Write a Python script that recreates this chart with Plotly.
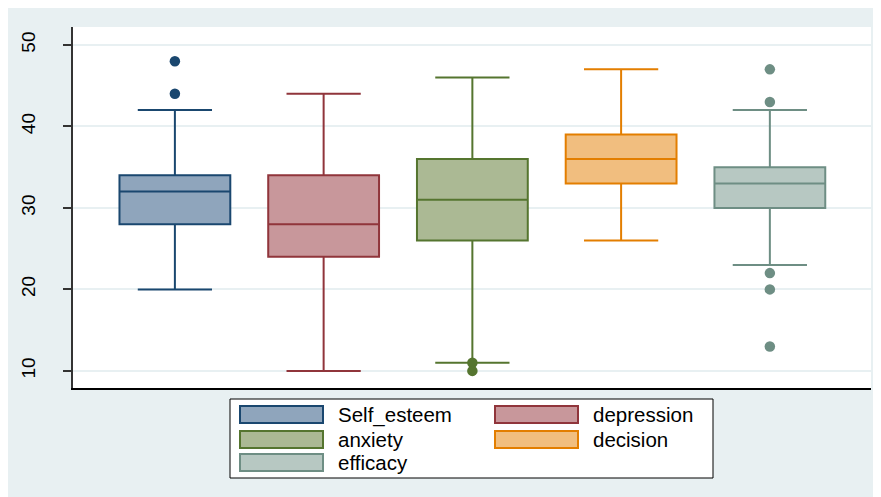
import plotly.graph_objects as go

names = ["Self_esteem", "depression", "anxiety", "decision", "efficacy"]
q1 = [28, 24, 26, 33, 30]
median = [32, 28, 31, 36, 33]
q3 = [34, 34, 36, 39, 35]
lower = [20, 10, 11, 26, 23]
upper = [42, 44, 46, 47, 42]
outliers = [[44, 48], [], [11, 10], [], [47, 43, 22, 20, 13]]
line_colors = ["#1a476f", "#90353b", "#55752f", "#e37e00", "#6e8e84"]
fill_colors = ["#8fa5bc", "#c8979b", "#abb994", "#f1be7f", "#b7c8c2"]
y_ticks = [10, 20, 30, 40, 50]

fig = go.Figure()
for i, n in enumerate(names):
    fig.add_trace(go.Box(
        x=[i], q1=[q1[i]], median=[median[i]], q3=[q3[i]],
        lowerfence=[lower[i]], upperfence=[upper[i]],
        name=n, width=0.745, whiskerwidth=0.67,
        fillcolor=fill_colors[i], line=dict(color=line_colors[i], width=2),
        boxpoints=False, showlegend=False, hoverinfo="skip"))
    if outliers[i]:
        fig.add_trace(go.Scatter(
            x=[i] * len(outliers[i]), y=outliers[i], mode="markers",
            marker=dict(color=line_colors[i], size=10.5, line=dict(width=0)),
            showlegend=False, hoverinfo="skip"))

# page offset (body margin) and plot area pixel geometry in page coords
OX, OY = 8, 8
FW, FH = 881 - OX, 497 - OY
L, R, T, B = 73 - OX, 871 - OX, 27 - OY, 388 - OY
W, H = R - L, B - T
def px(x): return (x - OX - L) / W
def py(y): return (B - (y - OY)) / H

shapes = []
shapes.append(dict(type="rect", xref="paper", yref="paper", layer="below",
                   x0=0, x1=1, y0=0, y1=1,
                   fillcolor="white", line=dict(width=0)))
# legend frame
shapes.append(dict(type="rect", xref="paper", yref="paper",
                   x0=px(230), x1=px(713), y0=py(478), y1=py(399),
                   fillcolor="white", line=dict(color="black", width=1)))
annotations = []
sw_x = [240, 495]
tx_x = [336, 591]
row_y = [406, 431, 454]
for i, n in enumerate(names):
    c, r = i % 2, i // 2
    shapes.append(dict(type="rect", xref="paper", yref="paper",
                       x0=px(sw_x[c]), x1=px(sw_x[c] + 83),
                       y0=py(row_y[r] + 17), y1=py(row_y[r]),
                       fillcolor=fill_colors[i],
                       line=dict(color=line_colors[i], width=2)))
    annotations.append(dict(xref="paper", yref="paper", x=px(tx_x[c]),
                            y=py(row_y[r] + 8.5), text=n, showarrow=False,
                            xanchor="left", yanchor="middle",
                            font=dict(size=20.5, color="black")))

fig.update_layout(
    width=FW, height=FH,
    margin=dict(l=L, r=FW - R, t=T, b=FH - B),
    paper_bgcolor="#e8f0f2", plot_bgcolor="rgba(0,0,0,0)",
    font=dict(family="Liberation Sans, Arial, sans-serif", color="black"),
    shapes=shapes, annotations=annotations,
    xaxis=dict(range=[-0.685, 4.68], showticklabels=False, showgrid=False,
               zeroline=False, showline=True, linecolor="black", linewidth=1.5,
               ticks="", fixedrange=True),
    yaxis=dict(range=[7.9, 52.2], tickvals=y_ticks, ticktext=[str(t) for t in y_ticks],
               tickangle=-90, tickfont=dict(size=19, color="black"),
               showgrid=True, gridcolor="#e8f0f2", gridwidth=1.5,
               zeroline=False, showline=True, linecolor="#333333", linewidth=1.5,
               ticks="outside", ticklen=8, tickcolor="#333333", tickwidth=1.5,
               ticklabelstandoff=21),
)

fig.write_html("out.html")
